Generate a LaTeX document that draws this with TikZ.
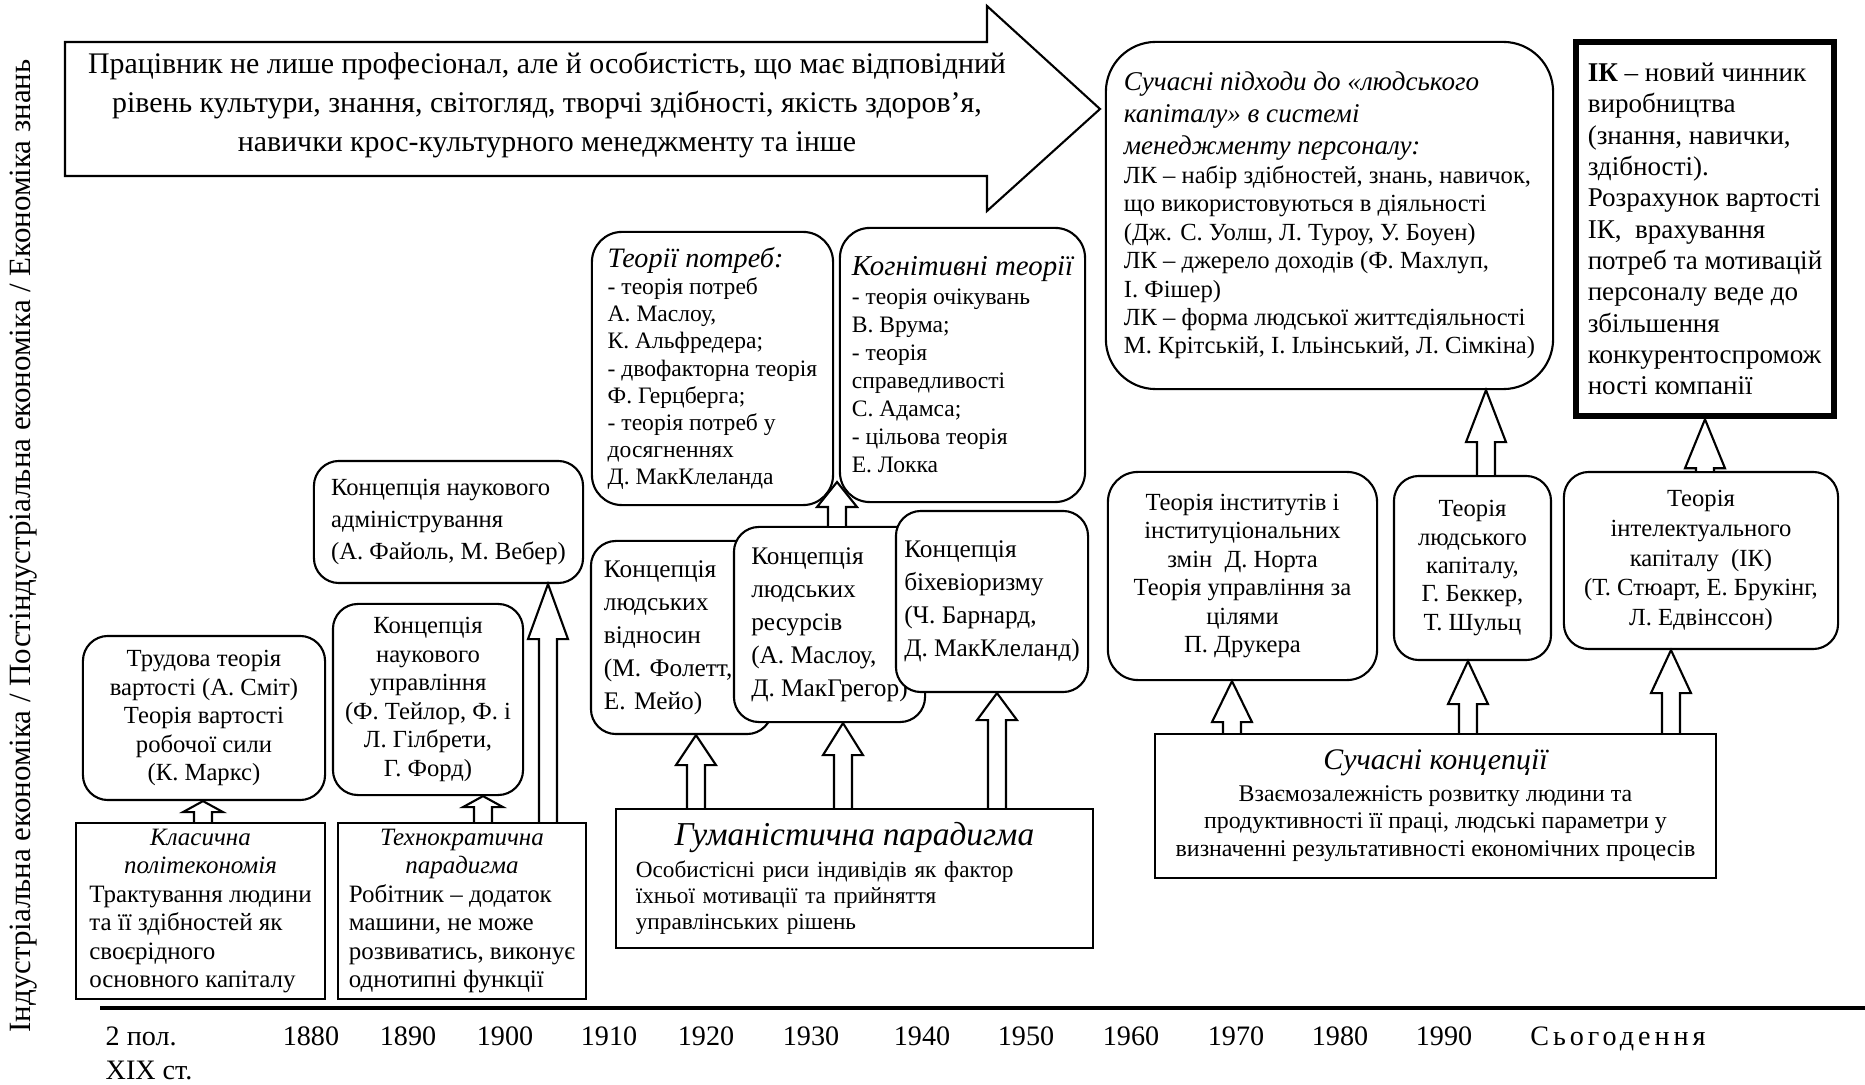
\documentclass[tikz,border=0pt]{standalone}
\usepackage{fontspec}
\setmainfont{Liberation Serif}
\newfontfamily\spacedserif[LetterSpace=14]{Liberation Serif}
\usetikzlibrary{calc}

\newcommand{\ctrline}[1]{\multicolumn{1}{@{}c@{}}{#1}}
\newcommand{\upblock}[4]{%
  \draw[hollow] ($(#3,0 |- #1)+(-9,0)$) -- ($(#3,0 |- #2)+(-9,#4)$)
    -- ($(#3,0 |- #2)+(-20,#4)$) -- (#3,0 |- #2)
    -- ($(#3,0 |- #2)+(20,#4)$) -- ($(#3,0 |- #2)+(9,#4)$)
    -- ($(#3,0 |- #1)+(9,0)$);}

\begin{document}
\begin{tikzpicture}[x=.01cm, y=-.01cm,
    rbox/.style={draw, line width=.6pt, rounded corners=.25cm, fill=white, inner sep=0pt, font=\fontsize{7}{8.1}\selectfont},
    sbox/.style={draw, line width=.6pt, fill=white, inner sep=0pt, font=\fontsize{7.1}{8.1}\selectfont},
    hollow/.style={draw, fill=white, line width=.6pt},
    yearlbl/.style={font=\fontsize{8}{9}\selectfont, anchor=base, inner sep=0pt}]
  \useasboundingbox (0,0) rectangle (1865,1085);

  \node[rotate=90, font=\fontsize{8.8}{10}\selectfont] (eras) at (24,546)
    {Індустріальна економіка / Постіндустріальна економіка / Економіка знань};

  \draw[line width=.6pt, fill=white] (65,42) -- (987,42) -- (987,6) -- (1100,109)
    -- (987,211) -- (987,176) -- (65,176) -- cycle;
  \node[align=center, font=\fontsize{8.5}{11.2}\selectfont] (motto) at (547,105)
    {Працівник не лише професіонал, але й особистість, що має відповідний\\
     рівень культури, знання, світогляд, творчі здібності, якість здоров’я,\\
     навички крос-культурного менеджменту та інше};

  % paradigms
  \node[sbox, minimum width=2.49cm, minimum height=1.76cm] (klas) at (200.5,911)
    {\begin{tabular}{@{}l@{}}\ctrline{\itshape Класична}\\\ctrline{\itshape політекономія}\\
     Трактування людини\\та її здібностей як\\своєрідного\\основного капіталу\end{tabular}};
  \node[sbox, minimum width=2.48cm, minimum height=1.76cm] (tekhno) at (462,911)
    {\begin{tabular}{@{}l@{}}\ctrline{\itshape Технократична}\\\ctrline{\itshape парадигма}\\
     Робітник – додаток\\машини, не може\\розвиватись, виконує\\однотипні функції\end{tabular}};
  \node[sbox, minimum width=4.77cm, minimum height=1.39cm, text width=4.37cm, align=left,
    font=\fontsize{6.6}{7.4}\selectfont] (guman) at (854.5,878.5)
    {{\centering\fontsize{9.5}{11}\selectfont\itshape Гуманістична парадигма\par}\vspace{1.7pt}
     Особистісні риси індивідів як фактор\\їхньої мотивації та прийняття\\управлінських рішень};
  \node[sbox, minimum width=5.61cm, minimum height=1.44cm, align=center,
    font=\fontsize{6.8}{7.9}\selectfont] (suchkon) at (1435.5,806)
    {{\fontsize{8.5}{10}\selectfont\itshape Сучасні концепції}\\[1pt]
     Взаємозалежність розвитку людини та\\
     продуктивності її праці, людські параметри у\\
     визначенні результативності економічних процесів};

  % concepts
  \node[rbox, minimum width=2.42cm, minimum height=1.64cm, align=center] (trud) at (204,718)
    {Трудова теорія\\вартості (А. Сміт)\\Теорія вартості\\робочої сили\\(К. Маркс)};
  \node[rbox, minimum width=1.90cm, minimum height=1.91cm, align=center] (nauk) at (428,699.5)
    {Концепція\\наукового\\управління\\(Ф. Тейлор, Ф. і\\Л. Гілбрети,\\Г. Форд)};
  \node[rbox, minimum width=2.69cm, minimum height=1.22cm, align=left,
    font=\fontsize{7}{9.1}\selectfont] (admin) at (448.5,522)
    {Концепція наукового\\адміністрування\\(А. Файоль, М. Вебер)};
  \node[rbox, minimum width=1.81cm, minimum height=1.93cm, text width=1.55cm, align=left,
    font=\fontsize{7.2}{9.4}\selectfont] (vidn) at (681.5,637.5)
    {Концепція\\людських\\відносин\\(М. Фолетт,\\Е. Мейо)};
  \node[rbox, minimum width=1.91cm, minimum height=1.95cm, align=left,
    font=\fontsize{7.2}{9.4}\selectfont] (resurs) at (829.5,624.5)
    {Концепція\\людських\\ресурсів\\(А. Маслоу,\\Д. МакГрегор)};
  \node[rbox, minimum width=1.92cm, minimum height=1.81cm, align=left,
    font=\fontsize{7.2}{9.4}\selectfont] (bikh) at (992,601.5)
    {Концепція\\біхевіоризму\\(Ч. Барнард,\\Д. МакКлеланд)};
  \node[rbox, rounded corners=.3cm, minimum width=2.41cm, minimum height=2.73cm, align=left,
    font=\fontsize{6.7}{7.7}\selectfont] (potreb) at (712.5,368.5)
    {{\fontsize{8}{9}\selectfont\itshape Теорії потреб:}\\- теорія потреб\\А. Маслоу,\\К. Альфредера;\\
     - двофакторна теорія\\Ф. Герцберга;\\- теорія потреб у\\досягненнях\\Д. МакКлеланда};
  \node[rbox, rounded corners=.3cm, minimum width=2.45cm, minimum height=2.74cm, align=left,
    font=\fontsize{6.7}{8}\selectfont] (kogn) at (962.5,365)
    {{\fontsize{8.2}{9}\selectfont\itshape Когнітивні теорії}\\- теорія очікувань\\В. Врума;\\- теорія\\
     справедливості\\С. Адамса;\\- цільова теорія\\Е. Локка};
  \node[inner sep=0pt, minimum size=0pt] (gap) at (837,482) {};

  % modern theories
  \node[rbox, rounded corners=.3cm, minimum width=2.69cm, minimum height=2.08cm, align=center]
    (instit) at (1242.5,576)
    {Теорія інститутів і\\інституціональних\\змін~ Д. Норта\\Теорія управління за\\цілями\\П. Друкера};
  \node[rbox, minimum width=1.57cm, minimum height=1.84cm, align=center] (ludkap) at (1472.5,568)
    {Теорія\\людського\\капіталу,\\Г. Беккер,\\Т. Шульц};
  \node[rbox, minimum width=2.74cm, minimum height=1.77cm, align=center,
    font=\fontsize{7}{8.4}\selectfont] (intel) at (1701,560.5)
    {Теорія\\інтелектуального\\капіталу~ (ІК)\\(Т. Стюарт, Е. Брукінг,\\Л. Едвінссон)};
  \node[rbox, rounded corners=.5cm, minimum width=4.47cm, minimum height=3.47cm, align=left]
    (suchpid) at (1329.5,215.5)
    {{\fontsize{7.7}{9}\selectfont\itshape Сучасні підходи до «людського}\\[1pt]
     {\fontsize{7.7}{9}\selectfont\itshape капіталу» в системі}\\[1pt]
     {\fontsize{7.7}{9}\selectfont\itshape менеджменту персоналу:}\\
     ЛК – набір здібностей, знань, навичок,\\що використовуються в діяльності\\
     (Дж. С. Уолш, Л. Туроу, У. Боуен)\\ЛК – джерело доходів (Ф. Махлуп,\\І. Фішер)\\
     ЛК – форма людської життєдіяльності\\М. Крітській, І. Ільінський, Л. Сімкіна)};
  \node[sbox, line width=1.8pt, minimum width=2.58cm, minimum height=3.74cm, align=left,
    font=\fontsize{7.7}{8.9}\selectfont] (ik) at (1705,229)
    {\textbf{ІК} – новий чинник\\виробництва\\(знання, навички,\\здібності).\\Розрахунок вартості\\
     ІК,~ врахування\\потреб та мотивацій\\персоналу веде до\\збільшення\\конкурентоспромож\\ності компанії};

  \upblock{klas.north}{trud.south}{203}{11}
  \upblock{tekhno.north}{nauk.south}{483}{11}
  \upblock{tekhno.north}{admin.south}{548}{55}
  \upblock{resurs.north}{gap}{837}{25}
  \upblock{guman.north}{vidn.south}{696}{30}
  \upblock{guman.north}{resurs.south}{843}{32}
  \upblock{guman.north}{bikh.south}{997}{27}
  \upblock{suchkon.north}{instit.south}{1232}{41}
  \upblock{suchkon.north}{ludkap.south}{1468}{43}
  \upblock{suchkon.north}{intel.south}{1671}{43}
  \upblock{ludkap.north}{suchpid.south}{1486}{52}
  \upblock{intel.north}{ik.south}{1705}{49}

  % time axis
  \draw[line width=1pt] (100,1008) -- (1865,1008);
  \node[yearlbl, anchor=base west] (pol) at (105,1045) {2 пол.};
  \node[yearlbl, anchor=base west] (xix) at (105,1080) {XIX ст.};
  \foreach \yr/\xx in {1880/311, 1890/408, 1900/505, 1910/609, 1920/706, 1930/811,
                       1940/922, 1950/1026, 1960/1131, 1970/1236, 1980/1340, 1990/1444}{
    \node[yearlbl] (yr\yr) at (\xx,1045) {\yr};
  }
  \node[yearlbl] (today) at (1618,1045) {\spacedserif Сьогодення};
\end{tikzpicture}
\end{document}
